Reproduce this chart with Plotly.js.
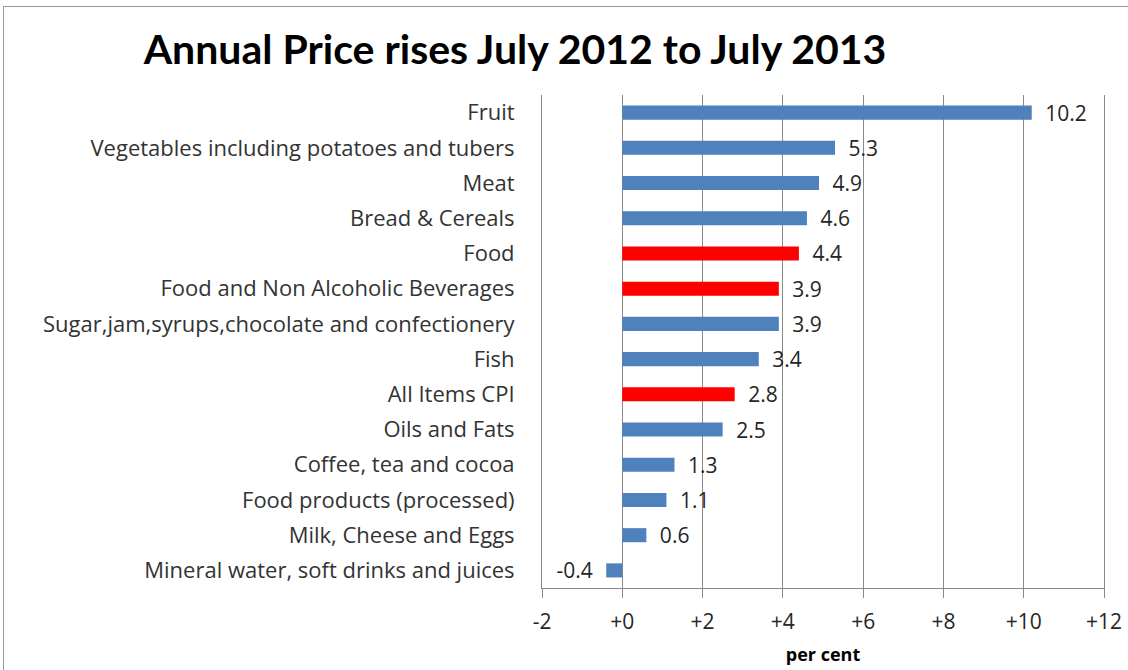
<!DOCTYPE html>
<html>
<head>
<meta charset="utf-8">
<script src="https://cdn.plot.ly/plotly-3.0.1.min.js"></script>
<style>
  html, body { margin: 0; padding: 0; background: #fff; overflow: hidden; }
  #wrap { position: relative; width: 1128px; height: 670px; }
  #chart { width: 1128px; height: 670px; }
  #frame { position: absolute; left: 3px; top: 6px; width: 1140px; height: 700px;
           border: 1px solid #9a9a9a; pointer-events: none; box-sizing: border-box; }
</style>
</head>
<body>
<div id="wrap">
  <div id="chart"></div>
  <div id="frame"></div>
</div>
<script>
// ---- data ----
const categories = [
  "Fruit",
  "Vegetables including potatoes and tubers",
  "Meat",
  "Bread & Cereals",
  "Food",
  "Food and Non Alcoholic Beverages",
  "Sugar,jam,syrups,chocolate and confectionery",
  "Fish",
  "All Items CPI",
  "Oils and Fats",
  "Coffee, tea and cocoa",
  "Food products (processed)",
  "Milk, Cheese and Eggs",
  "Mineral water, soft drinks and juices"
];
const values = [10.2, 5.3, 4.9, 4.6, 4.4, 3.9, 3.9, 3.4, 2.8, 2.5, 1.3, 1.1, 0.6, -0.4];
const highlighted = ["Food", "Food and Non Alcoholic Beverages", "All Items CPI"];
const xTickVals = [-2, 0, 2, 4, 6, 8, 10, 12];
const xTickText = ["-2", "+0", "+2", "+4", "+6", "+8", "+10", "+12"];

// ---- styling ----
const BLUE = "#4F81BD";
const RED = "#FF0000";
const GRID = "#8a8a8a";
const FONT = "'Open Sans', Lato, sans-serif";
const TFONT = "Lato, 'Open Sans', sans-serif";

const colors = categories.map(c => highlighted.includes(c) ? RED : BLUE);
const labels = values.map(v => v >= 0 ? "\u2002" + v.toFixed(1) : v.toFixed(1) + "\u2002");

const trace = {
  type: "bar",
  orientation: "h",
  y: categories,
  x: values,
  marker: { color: colors },
  text: labels,
  textposition: "outside",
  constraintext: "none",
  cliponaxis: false,
  textfont: { family: FONT, size: 21, color: "#262626" },
  hoverinfo: "x+y"
};

const nCat = categories.length;
const layout = {
  width: 1128,
  height: 670,
  margin: { l: 542, r: 24, t: 95, b: 82 },
  paper_bgcolor: "#ffffff",
  plot_bgcolor: "#ffffff",
  showlegend: false,
  bargap: 0.6,
  title: {
    text: "<b>Annual Price rises July 2012 to July 2013</b>",
    font: { family: TFONT, size: 41, color: "#000000" },
    xref: "container", yref: "container",
    x: 515 / 1128, xanchor: "center",
    y: 1 - 50 / 670, yanchor: "middle"
  },
  xaxis: {
    range: [-2, 12],
    tickmode: "array",
    tickvals: xTickVals,
    ticktext: xTickText,
    showgrid: true,
    gridcolor: GRID,
    gridwidth: 1,
    zeroline: false,
    showline: true,
    linecolor: GRID,
    linewidth: 1,
    ticks: "outside",
    ticklen: 9,
    tickcolor: GRID,
    ticklabelstandoff: 6,
    tickfont: { family: FONT, size: 21, color: "#262626" },
    title: {
      text: "<b>per cent</b>",
      font: { family: FONT, size: 18, color: "#000000" },
      standoff: 14
    },
    fixedrange: true
  },
  yaxis: {
    type: "category",
    categoryorder: "array",
    categoryarray: categories,
    range: [nCat - 0.5, -0.5],
    showgrid: false,
    zeroline: false,
    showline: true,
    mirror: true,
    linecolor: GRID,
    ticks: "",
    ticklabelstandoff: 22,
    tickfont: { family: FONT, size: 22, color: "#333333" },
    fixedrange: true
  },
  yaxis2: {
    type: "category",
    categoryorder: "array",
    categoryarray: categories,
    range: [nCat - 0.5, -0.5],
    overlaying: "y",
    anchor: "free",
    position: (0 - (-2)) / (12 - (-2)),
    side: "left",
    showgrid: false,
    zeroline: false,
    showline: true,
    linecolor: GRID,
    linewidth: 1,
    ticks: "outside",
    tickson: "boundaries",
    ticklen: 7,
    tickcolor: GRID,
    showticklabels: false,
    fixedrange: true
  }
};

Plotly.newPlot("chart", [trace], layout, { staticPlot: true, displayModeBar: false });
</script>
</body>
</html>
